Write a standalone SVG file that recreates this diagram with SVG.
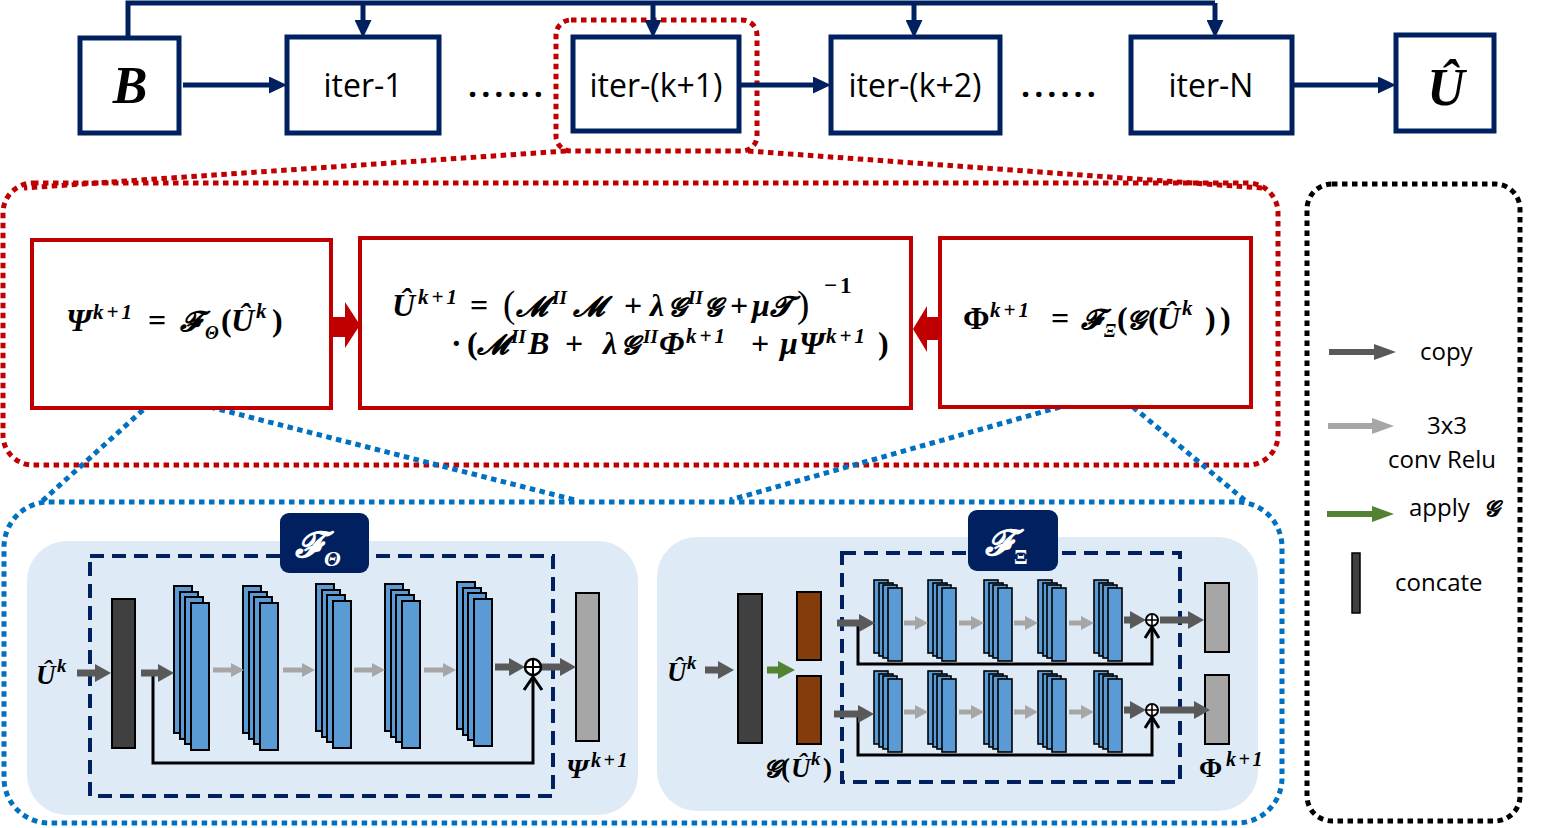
<svg xmlns="http://www.w3.org/2000/svg" xmlns:xlink="http://www.w3.org/1999/xlink" width="1554" height="828" viewBox="0 0 1554 828">
<style>
.box{fill:#fff;stroke:#002060;stroke-width:5}
.lbl{font-family:"Open Sans","Liberation Sans",sans-serif;font-size:32px;fill:#000;text-anchor:middle}
.dots{font-family:"Open Sans","Liberation Sans",sans-serif;font-size:32px;font-weight:700;fill:#000;letter-spacing:4px}
.nv{stroke:#002060;stroke-width:5;fill:none}
.rbox{fill:#fff;stroke:#C00000;stroke-width:4}
.rdot{fill:none;stroke:#C00000;stroke-width:5;stroke-dasharray:5.5 4.5}
.bdot{fill:none;stroke:#0070C0;stroke-width:5;stroke-dasharray:5.5 4.5}
.kdot{fill:none;stroke:#000;stroke-width:5;stroke-dasharray:5.5 4.5}
.m{font-family:"Liberation Serif","DejaVu Serif",serif;font-weight:700;font-style:italic;fill:#000}
.u{font-style:normal}
.bp{font-style:normal;font-weight:400}
.sp{letter-spacing:3px}
.sc{font-size:28px}
.sg{font-size:26px}
.panel{fill:#DEEBF7}
.dash{fill:none;stroke:#002060;stroke-width:4;stroke-dasharray:14 8}
.cat{fill:#404040;stroke:#000;stroke-width:2}
.outb{fill:#A6A6A6;stroke:#000;stroke-width:2}
.brn{fill:#843C0C;stroke:#000;stroke-width:2}
.cv{fill:#5B9BD5;stroke:#000;stroke-width:2}
.cvs{fill:#5B9BD5;stroke:#000;stroke-width:1.6}
.ad{stroke:#595959;stroke-width:7;marker-end:url(#aD)}
.al{stroke:#A6A6A6;stroke-width:5;marker-end:url(#aL)}
.ag{stroke:#548235;stroke-width:7;marker-end:url(#aG)}
.sk{fill:none;stroke:#000;stroke-width:3}
.ttl{fill:#002060}
.leg{font-family:"Open Sans","Liberation Sans",sans-serif;font-size:24px;fill:#000}
</style>
<defs>
<marker id="aN" markerUnits="userSpaceOnUse" markerWidth="18" markerHeight="17" viewBox="0 0 18 17" refX="1" refY="8.5" orient="auto"><path d="M0,0L18,8.5L0,17z" fill="#002060"/></marker>
<marker id="aD" markerUnits="userSpaceOnUse" markerWidth="16" markerHeight="18" viewBox="0 0 16 18" refX="1" refY="9" orient="auto"><path d="M0,0L16,9L0,18z" fill="#595959"/></marker>
<marker id="aL" markerUnits="userSpaceOnUse" markerWidth="13" markerHeight="14" viewBox="0 0 13 14" refX="1" refY="7" orient="auto"><path d="M0,0L13,7L0,14z" fill="#A6A6A6"/></marker>
<marker id="aG" markerUnits="userSpaceOnUse" markerWidth="17" markerHeight="18" viewBox="0 0 17 18" refX="1" refY="9" orient="auto"><path d="M0,0L17,9L0,18z" fill="#548235"/></marker>
<marker id="lD" markerUnits="userSpaceOnUse" markerWidth="22" markerHeight="16" viewBox="0 0 22 16" refX="1" refY="8" orient="auto"><path d="M0,0L22,8L0,16z" fill="#595959"/></marker>
<marker id="lL" markerUnits="userSpaceOnUse" markerWidth="22" markerHeight="16" viewBox="0 0 22 16" refX="1" refY="8" orient="auto"><path d="M0,0L22,8L0,16z" fill="#A6A6A6"/></marker>
<marker id="lG" markerUnits="userSpaceOnUse" markerWidth="22" markerHeight="16" viewBox="0 0 22 16" refX="1" refY="8" orient="auto"><path d="M0,0L22,8L0,16z" fill="#548235"/></marker>
<g id="stL">
<rect class="cv" x="0" y="0" width="18" height="147"/>
<rect class="cv" x="6" y="6" width="18" height="147"/>
<rect class="cv" x="11" y="11" width="18" height="147"/>
<rect class="cv" x="17" y="17" width="18" height="147"/>
</g>
<g id="stR">
<rect class="cvs" x="0" y="0" width="14" height="73"/>
<rect class="cvs" x="5" y="3" width="14" height="73"/>
<rect class="cvs" x="9" y="5" width="14" height="73"/>
<rect class="cvs" x="14" y="8" width="14" height="73"/>
</g>
</defs>
<rect width="1554" height="828" fill="#fff"/>

<!-- zoom guides -->
<g id="guides">
<rect class="rdot" x="556" y="20" width="201" height="131" rx="15"/>
<rect class="rdot" x="3" y="183" width="1275" height="282" rx="30"/>
<line class="rdot" x1="566" y1="151" x2="24" y2="188"/>
<line class="rdot" x1="748" y1="151" x2="1262" y2="188"/>
<rect class="bdot" x="4" y="502" width="1278" height="321" rx="45"/>
<line class="bdot" x1="143" y1="410" x2="40" y2="503"/>
<line class="bdot" x1="210" y1="407" x2="575" y2="500"/>
<line class="bdot" x1="1060" y1="407" x2="730" y2="500"/>
<line class="bdot" x1="1133" y1="407" x2="1248" y2="503"/>
</g>

<!-- top row connectors -->
<g id="top-connectors">
<path class="nv" d="M128,38V3H1215"/>
<line class="nv" x1="363" y1="3" x2="363" y2="21" marker-end="url(#aN)"/>
<line class="nv" x1="653" y1="3" x2="653" y2="21" marker-end="url(#aN)"/>
<line class="nv" x1="914" y1="3" x2="914" y2="21" marker-end="url(#aN)"/>
<line class="nv" x1="1215" y1="3" x2="1215" y2="21" marker-end="url(#aN)"/>
<line class="nv" x1="183" y1="85" x2="270" y2="85" marker-end="url(#aN)"/>
<line class="nv" x1="741" y1="85" x2="814" y2="85" marker-end="url(#aN)"/>
<line class="nv" x1="1294" y1="85" x2="1379" y2="85" marker-end="url(#aN)"/>
</g>

<g id="node-B"><rect class="box" x="80" y="38" width="99" height="95"/><text class="m" x="130" y="103" font-size="52" text-anchor="middle">B</text></g>
<g id="node-iter1"><rect class="box" x="287" y="37" width="152" height="96"/><text class="lbl" x="363" y="97">iter-1</text></g>
<text class="dots" x="468" y="97">......</text>
<g id="node-iterk1"><rect class="box" x="573" y="37" width="166" height="94"/><text class="lbl" x="656" y="97">iter-(k+1)</text></g>
<g id="node-iterk2"><rect class="box" x="831" y="37" width="169" height="96"/><text class="lbl" x="915" y="97">iter-(k+2)</text></g>
<text class="dots" x="1021" y="97">......</text>
<g id="node-iterN"><rect class="box" x="1131" y="37" width="161" height="96"/><text class="lbl" x="1211" y="97">iter-N</text></g>
<g id="node-U"><rect class="box" x="1396" y="35" width="98" height="96"/><text class="m" x="1446" y="105" font-size="52" text-anchor="middle">Û</text></g>

<!-- formula boxes -->
<g id="node-psi">
<rect class="rbox" x="32" y="240" width="299" height="168"/>
<text class="m" font-size="32"><tspan x="66" y="331">Ψ</tspan><tspan class="sp" x="93" y="319" font-size="21">k+1</tspan><tspan class="u" x="148" y="331">=</tspan><tspan class="sc" x="180" y="331">𝓕</tspan><tspan x="205" y="339" font-size="18">Θ</tspan><tspan class="u" x="221" y="331">(</tspan><tspan x="231" y="331">Û</tspan><tspan x="256" y="318" font-size="21">k</tspan><tspan class="u" x="272" y="331">)</tspan></text>
</g>
<g id="node-update">
<rect class="rbox" x="360" y="238" width="551" height="170"/>
<text class="m" font-size="32"><tspan x="392" y="316">Û</tspan><tspan class="sp" x="418" y="304" font-size="21">k+1</tspan><tspan class="u" x="470" y="316">=</tspan><tspan class="bp" x="503" y="317" font-size="37">(</tspan><tspan class="sc" x="516" y="316">𝓜</tspan><tspan x="552" y="304" font-size="19">II</tspan><tspan class="sc" x="573" y="316">𝓜</tspan><tspan class="u" x="624" y="316">+</tspan><tspan x="650" y="316">λ</tspan><tspan class="sg" x="668" y="316">𝓖</tspan><tspan x="688" y="304" font-size="19">II</tspan><tspan class="sg" x="704" y="316">𝓖</tspan><tspan class="u" x="730" y="316">+</tspan><tspan x="752" y="316">μ</tspan><tspan class="sc" x="770" y="316">𝓣</tspan><tspan class="bp" x="797" y="317" font-size="37">)</tspan><tspan class="u" x="824" y="293" font-size="23" letter-spacing="3">−1</tspan></text>
<text class="m" font-size="32"><tspan class="u" x="451" y="354">·</tspan><tspan class="u" x="467" y="354">(</tspan><tspan class="sc" x="477" y="354">𝓜</tspan><tspan x="511" y="343" font-size="19">II</tspan><tspan x="528" y="354">B</tspan><tspan class="u" x="565" y="354">+</tspan><tspan x="603" y="354">λ</tspan><tspan class="sg" x="621" y="354">𝓖</tspan><tspan x="643" y="343" font-size="19">II</tspan><tspan x="659" y="354">Φ</tspan><tspan class="sp" x="686" y="343" font-size="21">k+1</tspan><tspan class="u" x="751" y="354">+</tspan><tspan x="780" y="354">μ</tspan><tspan x="799" y="354">Ψ</tspan><tspan class="sp" x="826" y="343" font-size="21">k+1</tspan><tspan class="u" x="878" y="354">)</tspan></text>
</g>
<g id="node-phi">
<rect class="rbox" x="940" y="238" width="311" height="169"/>
<text class="m" font-size="32"><tspan class="u" x="963" y="329">Φ</tspan><tspan class="sp" x="990" y="317" font-size="21">k+1</tspan><tspan class="u" x="1051" y="329">=</tspan><tspan class="sc" x="1081" y="329">𝓕</tspan><tspan x="1104" y="337" font-size="18">Ξ</tspan><tspan class="u" x="1117" y="329">(</tspan><tspan class="sg" x="1127" y="329">𝓖</tspan><tspan class="u" x="1148" y="329">(</tspan><tspan x="1157" y="329">Û</tspan><tspan x="1182" y="315" font-size="21">k</tspan><tspan class="u" x="1205" y="329">)</tspan><tspan class="u" x="1220" y="329">)</tspan></text>
</g>
<g id="formula-connectors">
<path d="M331,317H345V302L360,325L345,348V337H331z" fill="#C00000"/>
<path d="M940,317H927V306L913,329L927,352V340H940z" fill="#C00000"/>
</g>

<!-- left network -->
<g id="net-theta">
<rect class="panel" x="27" y="541" width="611" height="274" rx="40"/>
<rect class="dash" x="90" y="556" width="463" height="240"/>
<path class="sk" d="M153,673V763H533V679"/>
<path class="sk" d="M524,690L533,677L542,690"/>
<rect class="cat" x="112" y="599" width="23" height="149"/>
<use xlink:href="#stL" x="174" y="586"/>
<use xlink:href="#stL" x="243" y="586"/>
<use xlink:href="#stL" x="316" y="584"/>
<use xlink:href="#stL" x="385" y="584"/>
<use xlink:href="#stL" x="457" y="582"/>
<rect class="outb" x="576" y="593" width="23" height="148"/>
<line class="ad" x1="77" y1="673" x2="96" y2="673"/>
<line class="ad" x1="141" y1="673" x2="159" y2="673"/>
<line class="al" x1="213" y1="670" x2="232" y2="670"/>
<line class="al" x1="283" y1="670" x2="303" y2="670"/>
<line class="al" x1="354" y1="670" x2="373" y2="670"/>
<line class="al" x1="424" y1="670" x2="444" y2="670"/>
<line class="ad" x1="495" y1="667" x2="510" y2="667"/>
<line class="ad" x1="541" y1="667" x2="561" y2="667"/>
<circle cx="533" cy="667" r="8" fill="#fff" stroke="#000" stroke-width="2.5"/>
<path d="M525,667H541M533,659V675" stroke="#000" stroke-width="2"/>
<rect class="ttl" x="280" y="513" width="89" height="60" rx="9"/>
<text class="m" style="fill:#fff" font-size="36"><tspan x="295" y="557">𝓕</tspan><tspan x="324" y="566" font-size="22">Θ</tspan></text>
<text class="m" font-size="27"><tspan x="36" y="684">Û</tspan><tspan x="57" y="672" font-size="19">k</tspan></text>
<text class="m" font-size="28"><tspan x="566" y="778">Ψ</tspan><tspan x="591" y="767" font-size="20" letter-spacing="2.5">k+1</tspan></text>
</g>

<!-- right network -->
<g id="net-xi">
<rect class="panel" x="657" y="537" width="601" height="274" rx="40"/>
<rect class="dash" x="842" y="553" width="338" height="229"/>
<path class="sk" d="M858,623V664H1152V628"/>
<path class="sk" d="M1145,638L1152,627L1159,638"/>
<path class="sk" d="M858,714V755H1152V718"/>
<path class="sk" d="M1145,728L1152,717L1159,728"/>
<rect class="cat" x="738" y="594" width="24" height="149"/>
<rect class="brn" x="797" y="592" width="24" height="68"/>
<rect class="brn" x="797" y="676" width="24" height="68"/>
<use xlink:href="#stR" x="874" y="580"/>
<use xlink:href="#stR" x="928" y="580"/>
<use xlink:href="#stR" x="984" y="580"/>
<use xlink:href="#stR" x="1038" y="580"/>
<use xlink:href="#stR" x="1094" y="580"/>
<use xlink:href="#stR" x="874" y="671"/>
<use xlink:href="#stR" x="928" y="671"/>
<use xlink:href="#stR" x="984" y="671"/>
<use xlink:href="#stR" x="1038" y="671"/>
<use xlink:href="#stR" x="1094" y="671"/>
<rect class="outb" x="1205" y="583" width="24" height="69"/>
<rect class="outb" x="1205" y="675" width="24" height="69"/>
<line class="ad" x1="705" y1="670" x2="719" y2="670"/>
<line class="ag" x1="767" y1="670" x2="779" y2="670"/>
<line class="ad" x1="837" y1="623" x2="860" y2="623"/>
<line class="al" x1="904" y1="623" x2="916" y2="623"/>
<line class="al" x1="959" y1="623" x2="972" y2="623"/>
<line class="al" x1="1014" y1="623" x2="1026" y2="623"/>
<line class="al" x1="1069" y1="623" x2="1082" y2="623"/>
<line class="ad" x1="1124" y1="620" x2="1131" y2="620"/>
<line class="ad" x1="1160" y1="620" x2="1189" y2="620"/>
<line class="ad" x1="834" y1="714" x2="859" y2="714"/>
<line class="al" x1="904" y1="712" x2="916" y2="712"/>
<line class="al" x1="959" y1="712" x2="972" y2="712"/>
<line class="al" x1="1014" y1="712" x2="1026" y2="712"/>
<line class="al" x1="1069" y1="712" x2="1082" y2="712"/>
<line class="ad" x1="1124" y1="710" x2="1131" y2="710"/>
<line class="ad" x1="1160" y1="710" x2="1195" y2="710"/>
<circle cx="1152" cy="620" r="6" fill="#fff" stroke="#000" stroke-width="2"/>
<path d="M1146,620H1158M1152,614V626" stroke="#000" stroke-width="1.6"/>
<circle cx="1152" cy="710" r="6" fill="#fff" stroke="#000" stroke-width="2"/>
<path d="M1146,710H1158M1152,704V716" stroke="#000" stroke-width="1.6"/>
<rect class="ttl" x="968" y="510" width="90" height="61" rx="9"/>
<text class="m" style="fill:#fff" font-size="36"><tspan x="985" y="555">𝓕</tspan><tspan class="u" x="1014" y="564" font-size="20">Ξ</tspan></text>
<text class="m" font-size="27"><tspan x="667" y="681">Û</tspan><tspan x="687" y="669" font-size="19">k</tspan></text>
<text class="m" font-size="27"><tspan font-size="24" x="764" y="777">𝓖</tspan><tspan class="u" x="781" y="777">(</tspan><tspan x="791" y="777">Û</tspan><tspan x="811" y="765" font-size="19">k</tspan><tspan class="u" x="823" y="777">)</tspan></text>
<text class="m" font-size="28"><tspan class="u" x="1199" y="777">Φ</tspan><tspan x="1226" y="766" font-size="20" letter-spacing="2.5">k+1</tspan></text>
</g>

<!-- legend -->
<g id="legend">
<rect class="kdot" x="1307" y="184" width="213" height="637" rx="25"/>
<line x1="1329" y1="352" x2="1375" y2="352" stroke="#595959" stroke-width="6" marker-end="url(#lD)"/>
<text class="leg" x="1420" y="360">copy</text>
<line x1="1328" y1="426" x2="1373" y2="426" stroke="#A6A6A6" stroke-width="6" marker-end="url(#lL)"/>
<text class="leg" x="1427" y="434">3x3</text>
<text class="leg" x="1388" y="468">conv Relu</text>
<line x1="1327" y1="514" x2="1373" y2="514" stroke="#548235" stroke-width="6" marker-end="url(#lG)"/>
<text class="leg" x="1409" y="516" font-size="22">apply</text>
<text class="m" x="1484" y="516" font-size="22">𝓖</text>
<rect x="1352" y="553" width="8" height="60" fill="#404040" stroke="#000" stroke-width="1.5"/>
<text class="leg" x="1395" y="591">concate</text>
</g>
</svg>
